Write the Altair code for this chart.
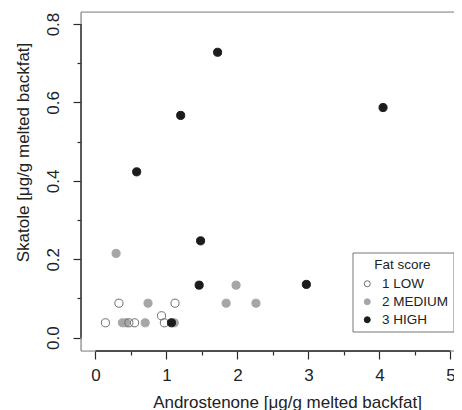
import altair as alt
import pandas as pd

# ---- data ----
groups = ["1 LOW", "2 MEDIUM", "3 HIGH"]
low_x = [0.14, 0.33, 0.47, 0.55, 0.93, 0.97, 1.12]
low_y = [0.038, 0.088, 0.038, 0.038, 0.056, 0.038, 0.088]
med_x = [0.29, 0.38, 0.43, 0.70, 0.74, 1.11, 1.84, 1.98, 2.26]
med_y = [0.215, 0.038, 0.038, 0.038, 0.088, 0.038, 0.088, 0.134, 0.088]
high_x = [0.58, 1.07, 1.20, 1.46, 1.48, 1.72, 2.97, 4.05]
high_y = [0.423, 0.038, 0.567, 0.134, 0.247, 0.728, 0.136, 0.587]

x_major = [0, 1, 2, 3, 4, 5]
x_minor = [0.5, 1.5, 2.5, 3.5, 4.5]
y_major = [0.0, 0.2, 0.4, 0.6, 0.8]
y_minor = [0.1, 0.3, 0.5, 0.7]

x_title = "Androstenone [\u03bcg/g melted backfat]"
y_title = "Skatole [\u03bcg/g melted backfat]"

# ---- tables ----
rows = []
for xs_, ys_, g in [(med_x, med_y, groups[1]), (low_x, low_y, groups[0]), (high_x, high_y, groups[2])]:
    for a, b in zip(xs_, ys_):
        rows.append({"andro": a, "skatole": b, "score": g})
pts = pd.DataFrame(rows)

W, H = 373, 339
FONT = "Liberation Sans"
xscale = alt.Scale(domain=[-0.2042, 5.0493], nice=False, zero=False)
yscale = alt.Scale(domain=[-0.0339, 0.8307], nice=False, zero=False)

one = pd.DataFrame({"k": [0]})
box_col = "#8a8a8a"
axis_col = "#2a2a2a"

box_top = alt.Chart(one).mark_rule(color=box_col, strokeWidth=1.2).encode(
    x=alt.value(0), x2=alt.value(W), y=alt.value(0))
box_left = alt.Chart(one).mark_rule(color=box_col, strokeWidth=1.2).encode(
    x=alt.value(0), y=alt.value(0), y2=alt.value(H))
box_bottom = alt.Chart(one).mark_rule(color=box_col, strokeWidth=1.2).encode(
    x=alt.value(0), x2=alt.value(W), y=alt.value(H))

xline_df = pd.DataFrame({"x0": [min(x_major)], "x1": [max(x_major)]})
yline_df = pd.DataFrame({"y0": [min(y_major)], "y1": [max(y_major)]})

x_line = alt.Chart(xline_df).mark_rule(color=axis_col, strokeWidth=1.3).encode(
    x=alt.X("x0:Q", scale=xscale,
            axis=alt.Axis(values=x_minor, tickSize=4, labels=False, domain=False,
                          grid=False, title=None, orient="bottom",
                          tickColor=axis_col, tickWidth=1.2)),
    x2="x1:Q",
    y=alt.value(H))

y_line = alt.Chart(yline_df).mark_rule(color=axis_col, strokeWidth=1.3).encode(
    y=alt.Y("y0:Q", scale=yscale,
            axis=alt.Axis(values=y_minor, tickSize=4, labels=False, domain=False,
                          grid=False, title=None, orient="left",
                          tickColor=axis_col, tickWidth=1.2)),
    y2="y1:Q",
    x=alt.value(0))

legend = alt.Legend(
    title="Fat score", orient="none", legendX=271.5, legendY=240.5,
    strokeColor="#777777", fillColor="white", padding=5, cornerRadius=0,
    titleAnchor="middle", titleFont=FONT, titleFontSize=13.5, titleFontWeight="normal",
    titleColor="#222222", titlePadding=6,
    labelFont=FONT, labelFontSize=13.5, labelColor="#222222", labelOffset=8,
    symbolSize=36, symbolStrokeWidth=1, symbolOffset=3, rowPadding=3,
)

points = alt.Chart(pts).mark_point(filled=False, size=66, strokeWidth=1, opacity=1).encode(
    x=alt.X("andro:Q", scale=xscale,
            axis=alt.Axis(values=x_major, tickSize=8, domain=False, grid=False,
                          orient="bottom", tickColor=axis_col, tickWidth=1.2,
                          labelFont=FONT, labelFontSize=17, labelColor="#222222",
                          labelPadding=8, labelFlush=False,
                          title=x_title, titleFont=FONT, titleFontSize=17,
                          titleFontWeight="normal", titleColor="#222222",
                          titleX=206, titleY=56, titleAlign="center",
                          titleBaseline="alphabetic")),
    y=alt.Y("skatole:Q", scale=yscale,
            axis=alt.Axis(values=y_major, format=".1f", tickSize=8, domain=False,
                          grid=False, orient="left", tickColor=axis_col, tickWidth=1.2,
                          labelFont=FONT, labelFontSize=17, labelColor="#222222",
                          labelAngle=270, labelAlign="center", labelBaseline="bottom",
                          labelPadding=11, labelFlush=False,
                          title=y_title, titleFont=FONT, titleFontSize=17,
                          titleFontWeight="normal", titleColor="#222222",
                          titleAngle=270, titleX=-53, titleY=140,
                          titleAlign="center", titleBaseline="alphabetic")),
    fill=alt.Fill("score:N", scale=alt.Scale(domain=groups,
                  range=["transparent", "#a6a6a6", "#1c1c1c"]), legend=legend),
    stroke=alt.Stroke("score:N", scale=alt.Scale(domain=groups,
                  range=["#707070", "#a6a6a6", "#1c1c1c"]), legend=legend),
)

chart = alt.layer(box_top, box_left, box_bottom, x_line, y_line, points).resolve_axis(
    x="independent", y="independent"
).properties(
    width=W, height=H,
    padding={"left": 73, "top": 4, "right": 0, "bottom": 59},
    autosize=alt.AutoSizeParams(type="none"),
).configure_view(stroke=None).configure(font=FONT)

chart.save("out.html", embed_options={"renderer": "svg", "actions": False})
